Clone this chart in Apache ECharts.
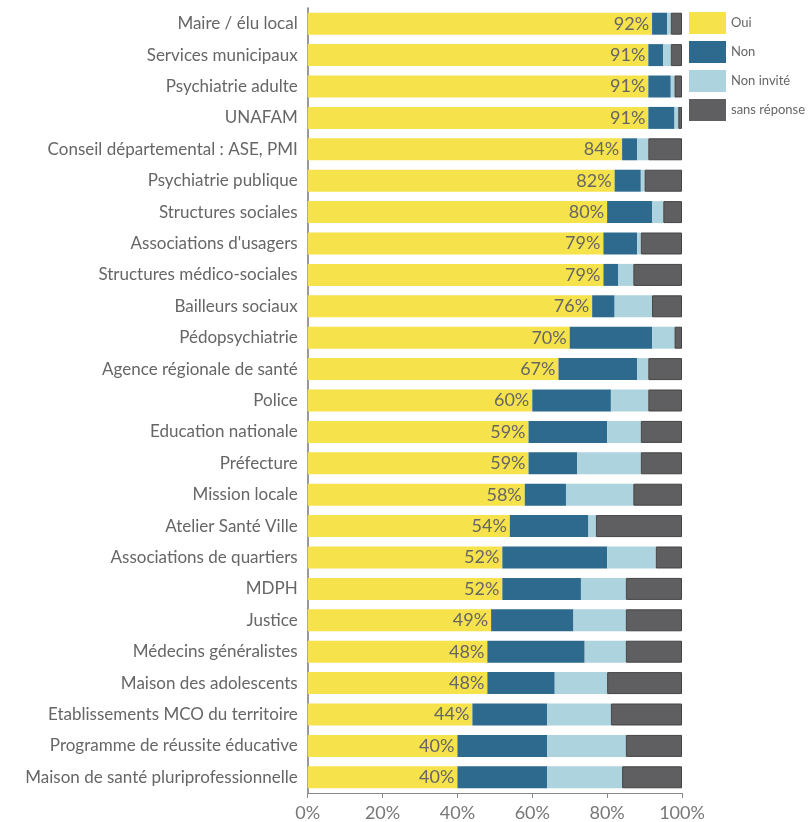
<!DOCTYPE html>
<html>
<head>
<meta charset="utf-8">
<script src="https://cdn.jsdelivr.net/npm/echarts@6/dist/echarts.min.js"></script>
<style>
html,body{margin:0;padding:0;background:#fff;}
#chart{width:811px;height:822px;}
</style>
</head>
<body>
<div id="chart"></div>
<script>
const categories = [
  "Maire / élu local",
  "Services municipaux",
  "Psychiatrie adulte",
  "UNAFAM",
  "Conseil départemental : ASE, PMI",
  "Psychiatrie publique",
  "Structures sociales",
  "Associations d'usagers",
  "Structures médico-sociales",
  "Bailleurs sociaux",
  "Pédopsychiatrie",
  "Agence régionale de santé",
  "Police",
  "Education nationale",
  "Préfecture",
  "Mission locale",
  "Atelier Santé Ville",
  "Associations de quartiers",
  "MDPH",
  "Justice",
  "Médecins généralistes",
  "Maison des adolescents",
  "Etablissements MCO du territoire",
  "Programme de réussite éducative",
  "Maison de santé pluriprofessionnelle"
];
const oui       = [92,91,91,91,84,82,80,79,79,76,70,67,60,59,59,58,54,52,52,49,48,48,44,40,40];
const non       = [ 4, 4, 6, 7, 4, 7,12, 9, 4, 6,22,21,21,21,13,11,21,28,21,22,26,18,20,24,24];
const nonInvite = [ 1, 2, 1, 1, 3, 1, 3, 1, 4,10, 6, 3,10, 9,17,18, 2,13,12,14,11,14,17,21,20];
const sansRep   = [ 3, 3, 2, 1, 9,10, 5,11,13, 8, 2, 9, 9,11,11,13,23, 7,15,15,15,20,19,15,16];
const seriesNames = ["Oui","Non","Non invité","sans réponse"];
const xTicks = [0,20,40,60,80,100];

const FONT = "Lato";
const chart = echarts.init(document.getElementById('chart'), null, {renderer:'canvas'});
chart.setOption({
  animation:false,
  backgroundColor:'#ffffff',
  textStyle:{fontFamily:FONT},
  grid:{left:307.7, right:129, top:8, bottom:29, containLabel:false},
  legend:{
    orient:'vertical', left:684, top:7,
    itemWidth:37, itemHeight:22, itemGap:7,
    data:seriesNames,
    icon:'rect',
    itemStyle:{borderWidth:0},
    textStyle:{color:'#666', fontSize:13, fontFamily:FONT}
  },
  xAxis:{
    type:'value', min:xTicks[0], max:xTicks[xTicks.length-1], interval:20,
    axisLine:{show:true, lineStyle:{color:'#888', width:1}},
    axisTick:{show:true, length:5, lineStyle:{color:'#888'}},
    splitLine:{show:false},
    axisLabel:{formatter:'{value}%', color:'#777', fontSize:18, fontFamily:FONT, margin:11}
  },
  yAxis:{
    type:'category', data:categories, inverse:true,
    axisLine:{show:true, lineStyle:{color:'#777', width:1.5}},
    axisTick:{show:false},
    axisLabel:{color:'#666', fontSize:17, fontFamily:FONT, margin:10}
  },
  series:[
    {name:seriesNames[0], type:'bar', stack:'t', data:oui, barCategoryGap:'30%',
     itemStyle:{color:'#f6e24b'},
     label:{show:true, position:'insideRight', formatter:'{c}%', color:'#666', fontSize:18, fontFamily:FONT, distance:3}},
    {name:seriesNames[1], type:'bar', stack:'t', data:non, itemStyle:{color:'#2d6a8d'}},
    {name:seriesNames[2], type:'bar', stack:'t', data:nonInvite, itemStyle:{color:'#add3df'}},
    {name:seriesNames[3], type:'bar', stack:'t', data:sansRep, itemStyle:{color:'#5f5e60', borderColor:'#444', borderWidth:1}}
  ]
});
</script>
</body>
</html>
